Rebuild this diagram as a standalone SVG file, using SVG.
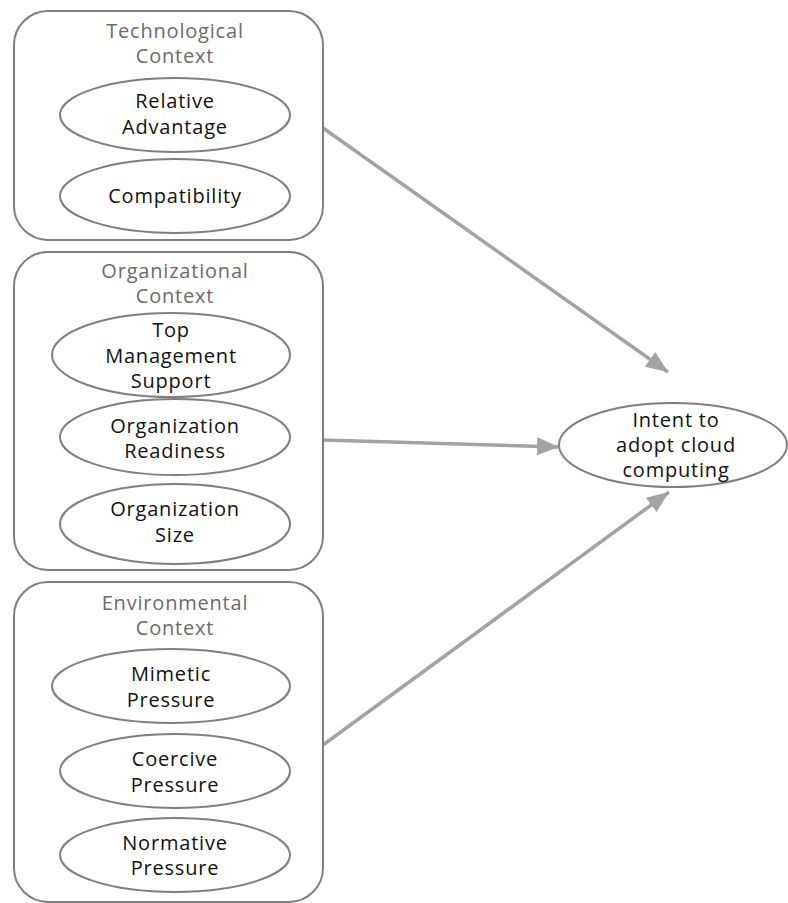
<svg xmlns="http://www.w3.org/2000/svg" width="788" height="903" viewBox="0 0 788 903">
<defs>
<style>
.box{fill:#fff;stroke:#7f7f7f;stroke-width:2}
.ell{fill:#fff;stroke:#7f7f7f;stroke-width:2}
.title{font-family:"Open Sans","Liberation Sans",sans-serif;font-size:20px;letter-spacing:0.8px;fill:#6b6b6b;text-anchor:middle}
.lbl{font-family:"Open Sans","Liberation Sans",sans-serif;font-size:20px;letter-spacing:0.8px;fill:#111;text-anchor:middle}
.arr{stroke:#a3a3a3;stroke-width:3.5;fill:none;marker-end:url(#ah)}
</style>
<marker id="ah" markerUnits="userSpaceOnUse" markerWidth="24" markerHeight="20" refX="22" refY="9" orient="auto">
<path d="M0,0 L22,9 L0,18 Z" fill="#a3a3a3"/>
</marker>
</defs>
<rect width="788" height="903" fill="#fff"/>
<g id="connectors">
<line class="arr" x1="323" y1="128" x2="668" y2="372"/>
<line class="arr" x1="323" y1="440" x2="559" y2="447"/>
<line class="arr" x1="323" y1="745" x2="669" y2="492"/>
</g>
<g id="tech">
<rect class="box" x="14" y="11" width="309" height="229" rx="34"/>
<text class="title" x="175" y="38">Technological</text>
<text class="title" x="175" y="63">Context</text>
</g>
<g id="relative-advantage">
<ellipse class="ell" cx="175" cy="115" rx="115" ry="37"/>
<text class="lbl" x="175" y="108">Relative</text>
<text class="lbl" x="175" y="134">Advantage</text>
</g>
<g id="compatibility">
<ellipse class="ell" cx="175" cy="196" rx="115" ry="37"/>
<text class="lbl" x="175" y="203">Compatibility</text>
</g>
<g id="org">
<rect class="box" x="14" y="252" width="309" height="318" rx="34"/>
<text class="title" x="175" y="278">Organizational</text>
<text class="title" x="175" y="303">Context</text>
</g>
<g id="top-management">
<ellipse class="ell" cx="171" cy="355" rx="119" ry="42"/>
<text class="lbl" x="171" y="337">Top</text>
<text class="lbl" x="171" y="363">Management</text>
<text class="lbl" x="171" y="388">Support</text>
</g>
<g id="org-readiness">
<ellipse class="ell" cx="175" cy="437" rx="115" ry="38"/>
<text class="lbl" x="175" y="433">Organization</text>
<text class="lbl" x="175" y="458">Readiness</text>
</g>
<g id="org-size">
<ellipse class="ell" cx="175" cy="524" rx="115" ry="40"/>
<text class="lbl" x="175" y="516">Organization</text>
<text class="lbl" x="175" y="542">Size</text>
</g>
<g id="env">
<rect class="box" x="14" y="582" width="309" height="320" rx="34"/>
<text class="title" x="175" y="610">Environmental</text>
<text class="title" x="175" y="635">Context</text>
</g>
<g id="mimetic">
<ellipse class="ell" cx="171" cy="686" rx="119" ry="37"/>
<text class="lbl" x="171" y="681">Mimetic</text>
<text class="lbl" x="171" y="707">Pressure</text>
</g>
<g id="coercive">
<ellipse class="ell" cx="175" cy="771" rx="115" ry="37"/>
<text class="lbl" x="175" y="766">Coercive</text>
<text class="lbl" x="175" y="792">Pressure</text>
</g>
<g id="normative">
<ellipse class="ell" cx="175" cy="855" rx="115" ry="37"/>
<text class="lbl" x="175" y="850">Normative</text>
<text class="lbl" x="175" y="875">Pressure</text>
</g>
<g id="intent">
<ellipse class="ell" cx="673" cy="445" rx="114" ry="42"/>
<text class="lbl" x="676" y="427">Intent to</text>
<text class="lbl" x="676" y="452">adopt cloud</text>
<text class="lbl" x="676" y="477">computing</text>
</g>
</svg>
